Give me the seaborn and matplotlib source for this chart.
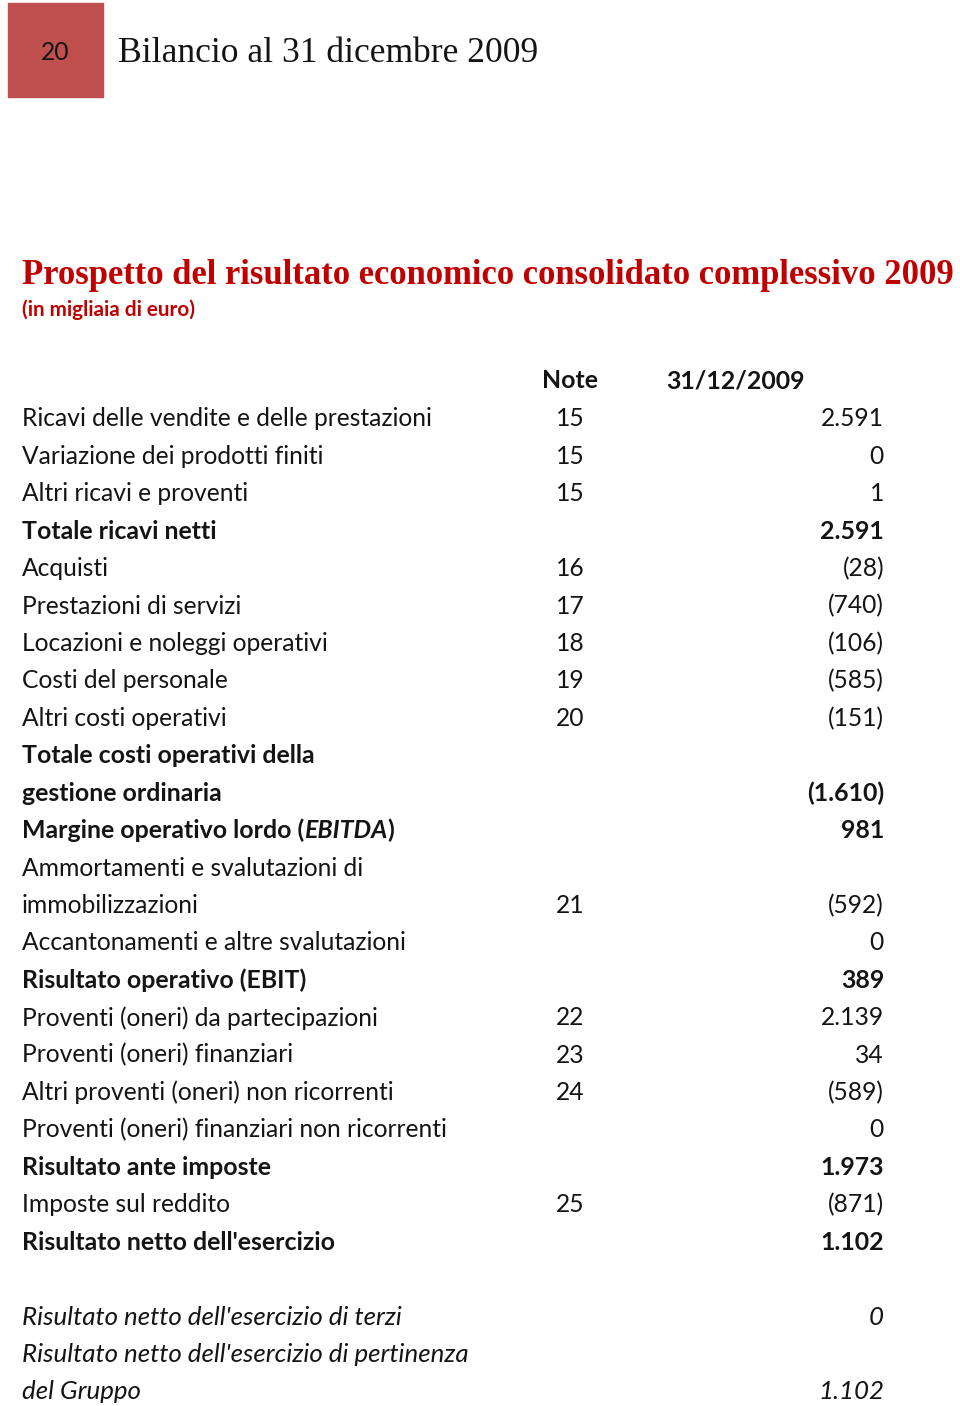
import matplotlib
matplotlib.use("Agg")
import matplotlib.pyplot as plt
import matplotlib.patches as mpatches
import seaborn as sns

# ----------------------------------------------------------
# DATA
# ----------------------------------------------------------
PAGE_NUMBER = "20"
PAGE_HEADER = "Bilancio al 31 dicembre 2009"
TITLE = "Prospetto del risultato economico consolidato complessivo 2009"
SUBTITLE = "(in migliaia di euro)"
COL_HEADERS = ["Note", "31/12/2009"]

labels = [
    "Ricavi delle vendite e delle prestazioni",
    "Variazione dei prodotti finiti",
    "Altri ricavi e proventi",
    "Totale ricavi netti",
    "Acquisti",
    "Prestazioni di servizi",
    "Locazioni e noleggi operativi",
    "Costi del personale",
    "Altri costi operativi",
    "Totale costi operativi della",
    "gestione ordinaria",
    "Margine operativo lordo (EBITDA)",
    "Ammortamenti e svalutazioni di",
    "immobilizzazioni",
    "Accantonamenti e altre svalutazioni",
    "Risultato operativo (EBIT)",
    "Proventi (oneri) da partecipazioni",
    "Proventi (oneri) finanziari",
    "Altri proventi (oneri) non ricorrenti",
    "Proventi (oneri) finanziari non ricorrenti",
    "Risultato ante imposte",
    "Imposte sul reddito",
    "Risultato netto dell'esercizio",
    "",
    "Risultato netto dell'esercizio di terzi",
    "Risultato netto dell'esercizio di pertinenza",
    "del Gruppo",
]
notes = ["15", "15", "15", "", "16", "17", "18", "19", "20", "", "", "", "",
         "21", "", "", "22", "23", "24", "", "", "25", "", "", "", "", ""]
values = ["2.591", "0", "1", "2.591", "(28)", "(740)", "(106)", "(585)", "(151)",
          "", "(1.610)", "981", "", "(592)", "0", "389", "2.139", "34", "(589)",
          "0", "1.973", "(871)", "1.102", "", "0", "", "1.102"]

# ----------------------------------------------------------
# STYLE
# ----------------------------------------------------------
BOLD_ROWS = {3, 9, 10, 11, 15, 20, 22}
ITALIC_ROWS = {24, 25, 26}
BODY_FONT = "Lato"
SERIF_FONT = "Liberation Serif"
TEXT_COLOR = "#141414"
RED_DARK = "#C00000"
BOX_RED = "#C0504D"

sns.set_theme(style="white")
plt.rcParams["font.family"] = [BODY_FONT, "DejaVu Sans"]

fig = plt.figure(figsize=(9.6, 14.06), dpi=100)
ax = fig.add_axes([0, 0, 1, 1])
ax.set_xlim(0, 960)
ax.set_ylim(1406, 0)
ax.axis("off")
renderer = fig.canvas.get_renderer()


def fit_size(text, target_px, **kw):
    """Font size that makes `text` span target_px pixels."""
    t = ax.text(0, 0, text, fontsize=10, **kw)
    w = t.get_window_extent(renderer).width
    t.remove()
    return 10 * target_px / w


body_size = fit_size(labels[0], 411, family=BODY_FONT)
bold_size = fit_size(labels[22], 314, family=BODY_FONT, fontweight="bold")
italic_size = fit_size(labels[25], 448, family=BODY_FONT, fontstyle="italic")

# page header
ax.add_patch(mpatches.Rectangle((8, 3), 95, 94, color=BOX_RED, zorder=1))
ax.text(55, 52, PAGE_NUMBER, ha="center", va="center", color=TEXT_COLOR,
        fontsize=body_size, family=BODY_FONT)
head_size = fit_size(PAGE_HEADER, 420, family=SERIF_FONT)
ax.text(118, 54, PAGE_HEADER, ha="left", va="center", color=TEXT_COLOR,
        fontsize=head_size, family=SERIF_FONT)

# title block
title_size = fit_size(TITLE, 933, family=SERIF_FONT, fontweight="bold")
ax.text(22, 275, TITLE, ha="left", va="center", color=RED_DARK,
        fontsize=title_size, family=SERIF_FONT, fontweight="bold")
sub_size = fit_size(SUBTITLE, 174, family=BODY_FONT, fontweight="bold")
ax.text(22, 310, SUBTITLE, ha="left", va="center", color=RED_DARK,
        fontsize=sub_size, family=BODY_FONT, fontweight="bold")

# column headers
ax.text(570, 381, COL_HEADERS[0], ha="center", va="center", color=TEXT_COLOR,
        fontsize=bold_size, fontweight="bold")
ax.text(735, 381, COL_HEADERS[1], ha="center", va="center", color=TEXT_COLOR,
        fontsize=bold_size, fontweight="bold")

# rows
y0, step = 419, 37.42
for i, (lab, note, val) in enumerate(zip(labels, notes, values)):
    y = y0 + i * step
    weight = "bold" if i in BOLD_ROWS else "normal"
    style = "italic" if i in ITALIC_ROWS else "normal"
    size = bold_size if i in BOLD_ROWS else (italic_size if i in ITALIC_ROWS else body_size)
    kw = dict(va="center", color=TEXT_COLOR, fontsize=size,
              fontweight=weight, fontstyle=style)
    if "(EBITDA)" in lab:
        t1 = ax.text(22, y, lab.split("EBITDA")[0], ha="left", **kw)
        t2 = ax.annotate("EBITDA", xy=(1, 0.5), xycoords=t1, ha="left",
                         va="center", color=TEXT_COLOR, fontsize=size,
                         fontweight="bold", fontstyle="italic")
        ax.annotate(")", xy=(1, 0.5), xycoords=t2, ha="left", **kw)
    else:
        ax.text(22, y, lab, ha="left", **kw)
    if note:
        ax.text(570, y, note, ha="center", **kw)
    if val:
        ax.text(884, y, val, ha="right", **kw)

fig.savefig("out.png", dpi=100)
